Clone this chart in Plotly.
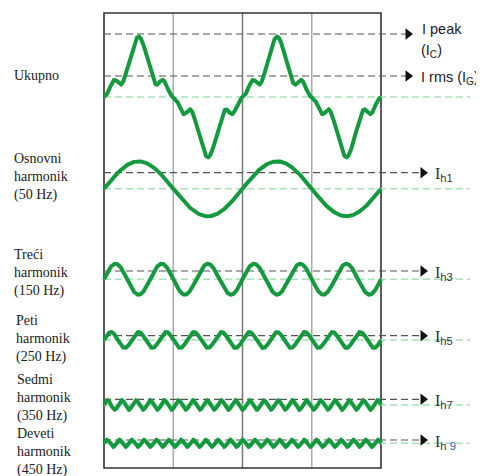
import numpy as np
import plotly.graph_objects as go

# ---------------- data ----------------
harmonic_orders = [1, 3, 5, 7, 9]
harmonic_names = ["Osnovni", "Treći", "Peti", "Sedmi", "Deveti"]
harmonic_freqs = ["(50 Hz)", "(150 Hz)", "(250 Hz)", "(350 Hz)", "(450 Hz)"]
# cycles drawn per fundamental period
harmonic_drawn_cycles = [1, 3, 5, 9.75, 11.25]
harmonic_amplitudes = [27.5, 15.5, 8.0, 4.8, 3.6]
harmonic_rms_marks = [16.1, 8.2, 4.3, 5.7, 3.3]
harmonic_subs = ["h1", "h3", "h5", "h7", "h 9"]

# total waveform: cosine harmonic content (orders 1,3,...,11) around its peak
total_orders = [1, 3, 5, 7, 9, 11]
total_coeffs = [40.44, 10.95, 8.98, 0.74, -2.05, 1.40]
total_peak = 61.0
total_rms_mark = 21.0

period_ms = 20.0
duration_ms = 40.0

# ---------------- layout constants ----------------
W, H = 484, 476
OFF = 8  # page body margin
px_per_ms = 277 / duration_ms
x_left_px = 104
def t_at(px):
    return (px - x_left_px) / px_per_ms

total_base = 97
harm_base = [188.8, 279.2, 340, 405, 443.3]
curve_color = "#14993f"
green_dash = "#a8e0b8"
black_dash = "#555555"
LW = 4

t = np.linspace(0, duration_ms, 3000)
fig = go.Figure()

phi = 2 * np.pi * (t - period_ms / 4) / period_ms
total = sum(c * np.cos(n * phi) for c, n in zip(total_coeffs, total_orders))
fig.add_trace(go.Scatter(x=t, y=total_base - total, mode="lines",
                         line=dict(color=curve_color, width=LW), hoverinfo="skip"))

for cyc, a, b in zip(harmonic_drawn_cycles, harmonic_amplitudes, harm_base):
    y = a * np.sin(2 * np.pi * cyc * t / period_ms)
    fig.add_trace(go.Scatter(x=t, y=b - y, mode="lines",
                             line=dict(color=curve_color, width=LW), hoverinfo="skip"))

shapes = []
for gx, col in zip([10, 20, 30], ["#aaaaaa", "#777777", "#aaaaaa"]):
    shapes.append(dict(type="line", x0=gx, x1=gx, y0=13, y1=468, xref="x", yref="y",
                       line=dict(color=col, width=1.5), layer="below"))
shapes.append(dict(type="rect", x0=0, x1=duration_ms, y0=13, y1=468, xref="x", yref="y",
                   line=dict(color="#333333", width=1.6), layer="below"))

for b in [total_base] + harm_base:
    shapes.append(dict(type="line", x0=0, x1=t_at(470), y0=b, y1=b, xref="x", yref="y",
                       line=dict(color=green_dash, width=1.5, dash="7px,4px"), layer="below"))

arrow_x, arrow_y = [], []
top_levels = [total_base - total_peak - 2, total_base - total_rms_mark]
for yv in top_levels:
    xe = t_at(413) - 5 / px_per_ms
    shapes.append(dict(type="line", x0=0, x1=xe, y0=yv, y1=yv, xref="x", yref="y",
                       line=dict(color=black_dash, width=1.2, dash="7px,4px"), layer="below"))
    arrow_x.append(xe); arrow_y.append(yv)
for b, r in zip(harm_base, harmonic_rms_marks):
    yv = b - r
    xe = t_at(428) - 5 / px_per_ms
    shapes.append(dict(type="line", x0=0, x1=xe, y0=yv, y1=yv, xref="x", yref="y",
                       line=dict(color=black_dash, width=1.2, dash="7px,4px"), layer="below"))
    arrow_x.append(xe); arrow_y.append(yv)

fig.add_trace(go.Scatter(x=arrow_x, y=arrow_y, mode="markers",
                         marker=dict(symbol="triangle-right", size=10, color="#111111"),
                         hoverinfo="skip"))

ann = []
serif = "Liberation Serif"
sans = "Liberation Sans"
ann.append(dict(x=t_at(12), y=75, text="Ukupno", xanchor="left", yanchor="middle",
                showarrow=False, font=dict(family=serif, size=14, color="#222")))
left_x = [12, 12, 14, 15, 15]
left_y = [177, 273, 339, 398, 452]
for nm, fq, lx, ly in zip(harmonic_names, harmonic_freqs, left_x, left_y):
    ann.append(dict(x=t_at(lx), y=ly, text=f"{nm}<br>harmonik<br>{fq}", xanchor="left",
                    yanchor="middle", align="left", showarrow=False,
                    font=dict(family=serif, size=14, color="#222")))

RF = 14.5
ann.append(dict(x=t_at(420), y=29, text="I peak", xanchor="left", yanchor="middle",
                showarrow=False, font=dict(family=sans, size=RF, color="#222")))
ann.append(dict(x=t_at(419), y=51, text="(I<sub>C</sub>)", xanchor="left", yanchor="middle",
                showarrow=False, font=dict(family=sans, size=RF, color="#222")))
ann.append(dict(x=t_at(419), y=78, text="I rms (I<sub>G</sub>)", xanchor="left", yanchor="middle",
                showarrow=False, font=dict(family=sans, size=RF, color="#222")))
for b, r, s in zip(harm_base, harmonic_rms_marks, harmonic_subs):
    s_html = s.replace("9", "<span style='color:#2a5fbf'>9</span>")
    ann.append(dict(x=t_at(433), y=b - r + 2,
                    text=f"<span style='font-family:Liberation Serif'>I</span><sub>{s_html}</sub>",
                    xanchor="left", yanchor="middle", showarrow=False,
                    font=dict(family=sans, size=16, color="#333")))

fig.update_layout(
    width=W, height=H, margin=dict(l=0, r=0, t=0, b=0, pad=0),
    paper_bgcolor="white", plot_bgcolor="white", showlegend=False,
    xaxis=dict(range=[t_at(OFF), t_at(W + OFF)], visible=False, fixedrange=True),
    yaxis=dict(range=[H + OFF, OFF], visible=False, fixedrange=True),
    shapes=shapes, annotations=ann,
)
fig.write_html("out.html")
